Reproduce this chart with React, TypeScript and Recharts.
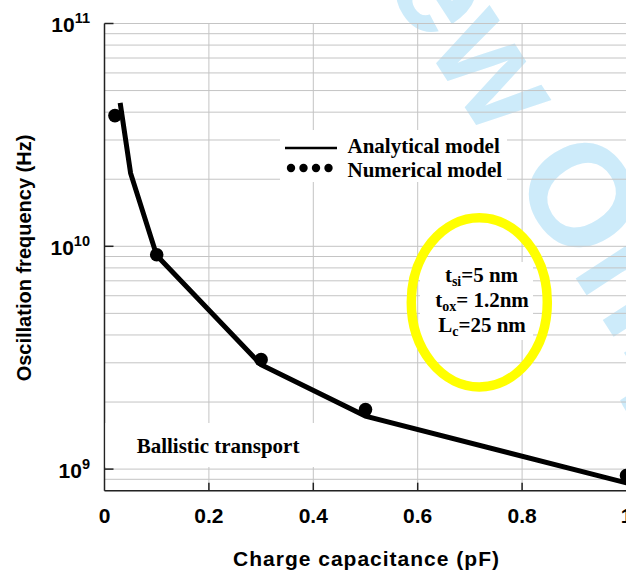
import React from 'react';
import { ComposedChart, Line, Scatter, XAxis, YAxis, CartesianGrid } from 'recharts';

const SANS = '"Liberation Sans", Arial, Helvetica, sans-serif';
const SERIF = '"Liberation Serif", "Times New Roman", Times, serif';

// Analytical model (solid line)
const analyticalCap = [0.03, 0.05, 0.1, 0.3, 0.5, 1.0];
const analyticalHz = [4.4e10, 2.13e10, 9.1e9, 2.94e9, 1.73e9, 8.67e8];

// Numerical model (dots)
const numericalCap = [0.02, 0.1, 0.3, 0.5, 1.0];
const numericalHz = [3.86e10, 9.16e9, 3.1e9, 1.85e9, 9.35e8];

// Axes
const xTicks = [0, 0.2, 0.4, 0.6, 0.8, 1];
const yDomain = [8e8, 1e11];
const yGridTicks = [
  8e8, 9e8,
  1e9, 2e9, 3e9, 4e9, 5e9, 6e9, 7e9, 8e9, 9e9,
  1e10, 2e10, 3e10, 4e10, 5e10, 6e10, 7e10, 8e10, 9e10,
  1e11,
];
const yMajorTicks = [1e9, 1e10, 1e11];

const xTitle = 'Charge capacitance (pF)';
const yTitle = 'Oscillation frequency (Hz)';
const legendLabels = ['Analytical model', 'Numerical model'];
const noteText = 'Ballistic transport';
const watermark = 'For Review Only';

const analyticalData = analyticalCap.map((x, i) => ({ x, y: analyticalHz[i] }));
const numericalData = numericalCap.map((x, i) => ({ x, y: numericalHz[i] }));

const isDecade = (v: number) => {
  const e = Math.round(Math.log10(v));
  return Math.abs(v - Math.pow(10, e)) / v < 1e-6;
};

function YTick(props: any) {
  const { x, y, payload } = props;
  const v = payload.value as number;
  if (!isDecade(v)) return <g />;
  const exp = Math.round(Math.log10(v));
  return (
    <g>
      <line x1={x} y1={y} x2={x + 9} y2={y} stroke="#222" strokeWidth={1.5} />
      <text x={x - 14.5} y={y + 8.5} textAnchor="end" fontFamily={SANS} fontWeight="bold" fontSize={21} fill="#000">
        10<tspan fontSize={14.5} dy={-9}>{exp}</tspan>
      </text>
    </g>
  );
}

function XTick(props: any) {
  const { x, y, payload } = props;
  const v = payload.value as number;
  return (
    <g>
      {v > 0 && v < 1 && <line x1={x} y1={y} x2={x} y2={y - 8} stroke="#222" strokeWidth={1.5} />}
      <text x={x} y={y + 32.3} textAnchor="middle" fontFamily={SANS} fontWeight="bold" fontSize={21} fill="#000">
        {String(v)}
      </text>
    </g>
  );
}

const Dot = (props: any) => <circle cx={props.cx} cy={props.cy} r={6.8} fill="#000" />;

export default function App() {
  return (
    <div style={{ position: 'fixed', left: 0, top: 0, width: 626, height: 571, overflow: 'hidden', background: '#fff' }}>
      <svg width={626} height={571} style={{ position: 'absolute', left: 0, top: 0 }}>
        <text
          x={417}
          y={-58}
          transform="rotate(57, 417, -58)"
          textAnchor="middle"
          dominantBaseline="central"
          fontFamily={SANS}
          fontWeight="bold"
          fontSize={145}
          fill="#cdebfa"
        >
          {watermark}
        </text>
      </svg>
      <div style={{ position: 'absolute', left: 0, top: 0 }}>
        <ComposedChart width={640} height={571} margin={{ top: 23.5, right: 13.5, left: 4.5, bottom: 4.3 }}>
          <CartesianGrid xAxisId="bottom" yAxisId="left" stroke="#c4c4c4" strokeWidth={1} />
          <XAxis
            xAxisId="bottom"
            dataKey="x"
            type="number"
            domain={[0, 1]}
            ticks={xTicks}
            interval={0}
            allowDataOverflow
            height={76}
            tickSize={0}
            tickMargin={0}
            tickLine={false}
            tick={<XTick />}
            axisLine={{ stroke: '#222', strokeWidth: 1.5 }}
          />
          <XAxis
            xAxisId="top"
            orientation="top"
            type="number"
            domain={[0, 1]}
            ticks={[0.2, 0.4, 0.6, 0.8]}
            interval={0}
            height={0}
            mirror
            tickSize={8}
            tick={false}
            tickLine={{ stroke: '#222', strokeWidth: 1.5 }}
            axisLine={{ stroke: '#222', strokeWidth: 1.5 }}
          />
          <YAxis
            yAxisId="left"
            type="number"
            scale="log"
            domain={yDomain}
            ticks={yGridTicks}
            interval={0}
            allowDataOverflow
            width={100}
            tickSize={0}
            tickMargin={0}
            tickLine={false}
            tick={<YTick />}
            axisLine={{ stroke: '#222', strokeWidth: 1.5 }}
          />
          <YAxis
            yAxisId="right"
            orientation="right"
            type="number"
            scale="log"
            domain={yDomain}
            ticks={yMajorTicks}
            interval={0}
            allowDataOverflow
            width={0}
            mirror
            tickSize={9}
            tick={false}
            tickLine={{ stroke: '#222', strokeWidth: 1.5 }}
            axisLine={false}
          />
          <Line
            xAxisId="bottom"
            yAxisId="left"
            data={analyticalData}
            dataKey="y"
            type="linear"
            stroke="#000"
            strokeWidth={5}
            dot={false}
            activeDot={false}
            isAnimationActive={false}
          />
          <Scatter
            xAxisId="bottom"
            yAxisId="left"
            data={numericalData}
            dataKey="y"
            fill="#000"
            shape={<Dot />}
            isAnimationActive={false}
          />
        </ComposedChart>
      </div>
      <svg width={626} height={571} style={{ position: 'absolute', left: 0, top: 0, pointerEvents: 'none' }}>
        {/* legend */}
        <rect x={280} y={130} width={227} height={52} fill="#fff" />
        <line x1={285} y1={148} x2={337} y2={148} stroke="#000" strokeWidth={2.5} />
        {[291, 303.5, 316, 328.5].map((cx) => (
          <circle key={cx} cx={cx} cy={168} r={4.2} fill="#000" />
        ))}
        <text x={347.5} y={153.3} fontFamily={SERIF} fontWeight="bold" fontSize={21} fill="#000">{legendLabels[0]}</text>
        <text x={347.5} y={176.7} fontFamily={SERIF} fontWeight="bold" fontSize={21} fill="#000">{legendLabels[1]}</text>

        {/* ballistic transport note */}
        <rect x={105.5} y={423} width={222} height={44} fill="#fff" />
        <text x={136.7} y={452.7} fontFamily={SERIF} fontWeight="bold" fontSize={21} fill="#000">{noteText}</text>

        {/* parameters in yellow ellipse */}
        <rect x={420} y={262} width={113} height={78} fill="#fff" />
        <ellipse cx={479.3} cy={302.3} rx={68} ry={84.6} fill="none" stroke="#ffff00" strokeWidth={9.5} />
        <text x={481.5} y={281.7} textAnchor="middle" fontFamily={SERIF} fontWeight="bold" fontSize={21} fill="#000">
          t<tspan fontSize={14} dy={4.5}>si</tspan><tspan dy={-4.5}>=5 nm</tspan>
        </text>
        <text x={482} y={306.7} textAnchor="middle" fontFamily={SERIF} fontWeight="bold" fontSize={21} fill="#000">
          t<tspan fontSize={14} dy={4.5}>ox</tspan><tspan dy={-4.5}>= 1.2nm</tspan>
        </text>
        <text x={482} y={331.7} textAnchor="middle" fontFamily={SERIF} fontWeight="bold" fontSize={21} fill="#000">
          L<tspan fontSize={14} dy={4.5}>c</tspan><tspan dy={-4.5}>=25 nm</tspan>
        </text>

        {/* axis titles */}
        <text x={366.5} y={566} textAnchor="middle" fontFamily={SANS} fontWeight="bold" fontSize={21} letterSpacing={1} fill="#000">
          {xTitle}
        </text>
        <text
          x={30.5}
          y={258}
          transform="rotate(-90, 30.5, 258)"
          textAnchor="middle"
          fontFamily={SANS}
          fontWeight="bold"
          fontSize={20}
          fill="#000"
        >
          {yTitle}
        </text>
      </svg>
    </div>
  );
}
